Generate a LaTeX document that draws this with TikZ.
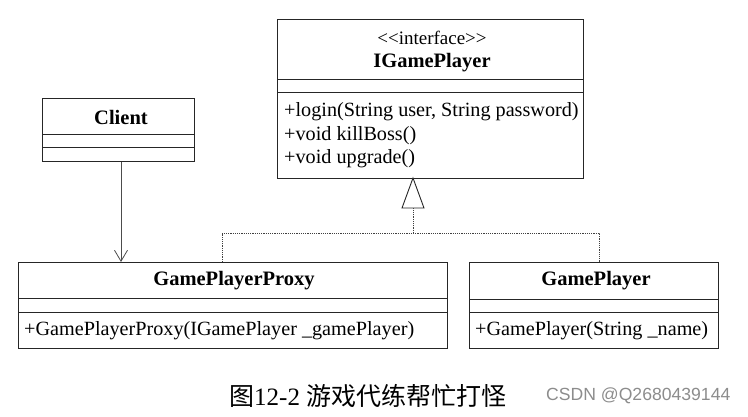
\documentclass[tikz,border=0pt]{standalone}
\usepackage{fontspec}
\setmainfont{Liberation Serif}
\newfontfamily\cjk{Noto Sans CJK SC}
\newfontfamily\wmfont{Liberation Sans}
\usetikzlibrary{arrows.meta,calc}
\begin{document}
\begin{tikzpicture}[x=1pt,y=-1pt,
  umlbox/.style={draw=black!85,line width=0.9pt,rectangle,anchor=north west,inner sep=0pt},
  sep/.style={draw=black!85,line width=0.9pt},
  title/.style={font=\fontsize{20.5}{22}\selectfont\bfseries,inner sep=0pt},
  member/.style={font=\fontsize{20.2}{22}\selectfont,inner sep=0pt,anchor=west},
  realize/.style={draw=black!75,line width=0.8pt,dash pattern=on 1.2pt off 1pt},
  assoc/.style={draw=black!70,line width=0.8pt,-{Straight Barb[length=11pt,width=13pt,line width=0.8pt]}}]
\useasboundingbox (0,0) rectangle (748,416);

% Client
\node[umlbox,minimum width=152pt,minimum height=63pt] (client) at (42,98) {};
\draw[sep] (42,134) -- (194,134);
\draw[sep] (42,147) -- (194,147);
\node[title] (clientname) at (121,117) {Client};

% IGamePlayer interface
\node[umlbox,minimum width=306pt,minimum height=159pt] (igp) at (277,19) {};
\draw[sep] (277,79) -- (583,79);
\draw[sep] (277,92) -- (583,92);
\node[font=\fontsize{19}{21}\selectfont,inner sep=0pt] (stereo) at (432,38) {<\kern0pt<interface>\kern0pt>};
\node[title] (igpname) at (432,63) {IGamePlayer};
\node[member] (m1) at (284,112) {+login(String user, String password)};
\node[member] (m2) at (284,136) {+void killBoss()};
\node[member] (m3) at (284,159) {+void upgrade()};

% GamePlayerProxy
\node[umlbox,minimum width=429pt,minimum height=86pt] (proxy) at (18,262) {};
\draw[sep] (18,298) -- (447,298);
\draw[sep] (18,312) -- (447,312);
\node[title] (proxyname) at (234,281) {GamePlayerProxy};
\node[member] (pm) at (24,331) {+GamePlayerProxy(IGamePlayer \_gamePlayer)};

% GamePlayer
\node[umlbox,minimum width=249pt,minimum height=86pt] (gp) at (469,262) {};
\draw[sep] (469,299) -- (718,299);
\draw[sep] (469,312) -- (718,312);
\node[title] (gpname) at (596,281) {GamePlayer};
\node[member] (gm) at (475,331) {+GamePlayer(String \_name)};

% realization: both classes implement IGamePlayer
\coordinate (pin) at (222,262);
\coordinate (gin) at (599,262);
\coordinate (join) at (413,233);
\draw[realize] (pin) |- (join) -| (gin);
\draw[realize] (join) -- (413,208);
\draw[draw=black!85,line width=0.9pt,fill=white] (413,208) -- (402,208) -- (413,178) -- (424,208) -- cycle;

% Client uses the proxy
\draw[assoc] (client.south -| 121,0) -- (proxy.north -| 121,0);

% caption
\node[inner sep=0pt,anchor=west] (cap) at (229,396)
  {{\cjk\fontsize{25}{28}\selectfont 图}{\fontsize{25}{28}\selectfont 12-2 }{\cjk\fontsize{25}{28}\selectfont 游戏代练帮忙打怪}};
\node[inner sep=0pt,anchor=west,text=black!45,font=\wmfont\fontsize{17.6}{20}\selectfont] (wm) at (546,396) {CSDN @Q2680439144};
\end{tikzpicture}
\end{document}
